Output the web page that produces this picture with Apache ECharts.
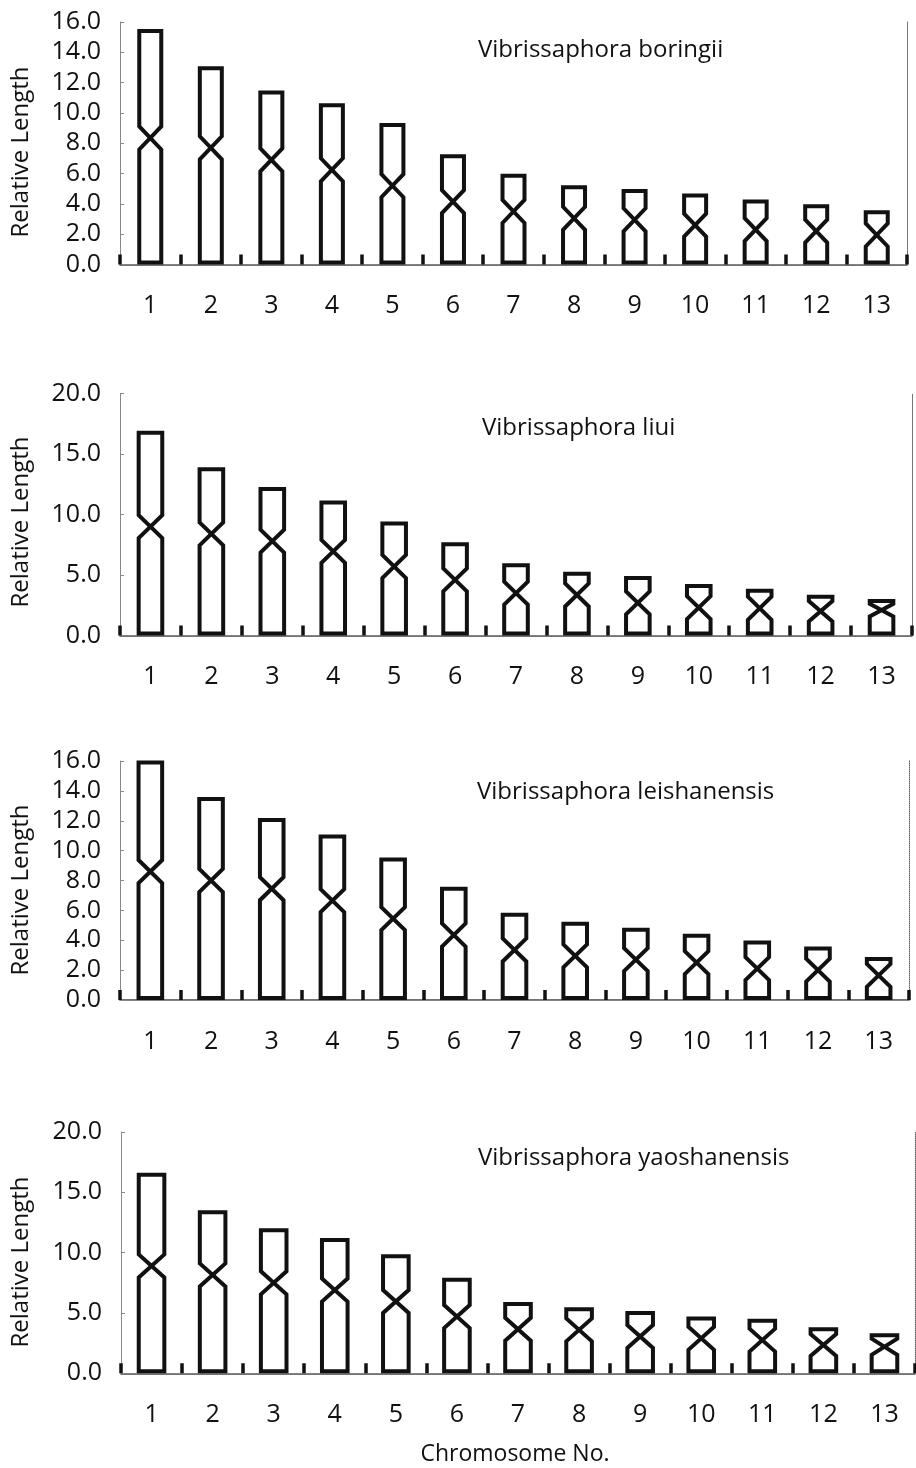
<!DOCTYPE html>
<html><head><meta charset="utf-8">
<script src="https://cdn.jsdelivr.net/npm/echarts@6/dist/echarts.min.js"></script>
<style>html,body{margin:0;padding:0;background:#fff}#c{width:916px;height:1468px}</style>
</head><body><div id="c"></div>
<script>
// ---- data ----
const chromosomes = ['1','2','3','4','5','6','7','8','9','10','11','12','13'];
const speciesNames = ['Vibrissaphora boringii','Vibrissaphora liui','Vibrissaphora leishanensis','Vibrissaphora yaoshanensis'];

const boringiiLength     = [15.4, 12.95, 11.35, 10.5, 9.2, 7.15, 5.85, 5.1, 4.85, 4.55, 4.15, 3.85, 3.45];
const boringiiCentromere = [8.35, 7.7, 6.9, 6.25, 5.2, 4.15, 3.5, 3.05, 2.95, 2.6, 2.3, 2.2, 1.95];

const liuiLength         = [16.75, 13.75, 12.1, 11.0, 9.25, 7.55, 5.8, 5.1, 4.75, 4.1, 3.7, 3.2, 2.85];
const liuiCentromere     = [9.0, 8.4, 7.8, 6.95, 5.7, 4.6, 3.5, 3.35, 2.7, 2.3, 2.25, 2.0, 2.1];

const leishanLength      = [15.9, 13.45, 12.05, 10.95, 9.4, 7.45, 5.7, 5.1, 4.7, 4.3, 3.85, 3.45, 2.75];
const leishanCentromere  = [8.6, 8.0, 7.45, 6.65, 5.45, 4.35, 3.35, 2.95, 2.7, 2.5, 2.1, 2.0, 1.65];

const yaoshanLength      = [16.45, 13.35, 11.85, 11.05, 9.7, 7.75, 5.75, 5.3, 5.0, 4.55, 4.35, 3.65, 3.15];
const yaoshanCentromere  = [8.9, 8.15, 7.5, 6.9, 5.95, 4.7, 3.65, 3.6, 3.05, 2.9, 2.75, 2.35, 2.2];

const yMax      = [16, 20, 16, 20];
const yInterval = [2, 5, 2, 5];
const yAxisTitle = 'Relative Length';
const xAxisTitle = 'Chromosome No.';

// ---- layout / style ----
const lengths = [boringiiLength, liuiLength, leishanLength, yaoshanLength];
const centromeres = [boringiiCentromere, liuiCentromere, leishanCentromere, yaoshanCentromere];
const layout = [
  {left:120, width:787, top:22,   height:242.5, hw:11,   titleX:478, titleY:50,   nameY:152},
  {left:120, width:792, top:393.5,height:242,   hw:11.8, titleX:482, titleY:428,  nameY:522},
  {left:120, width:789, top:761,  height:239,   hw:11.8, titleX:477, titleY:792,  nameY:890},
  {left:121, width:794, top:1132, height:241.3, hw:12.8, titleX:478, titleY:1158, nameY:1262}
];
const FONT = '"Open Sans", sans-serif';
const INK = '#111';

function makeRender(hw){
  return function(params, api){
    const i = api.value(0), top = api.value(1), cen = api.value(2);
    const pB = api.coord([i, 0]);
    const pT = api.coord([i, top]);
    const pC = api.coord([i, cen]);
    const xc = pB[0];
    const x0 = xc - hw, x1 = xc + hw;
    const yb = pB[1] - 2, yt = pT[1], yc = pC[1];
    const d = Math.min(11.5, 0.7*(yc - yt), 0.7*(yb - yc));
    const pts = [[x0,yb],[x0,yc+d],[x1,yc-d],[x1,yt],[x0,yt],[x0,yc-d],[x1,yc+d],[x1,yb]];
    return {
      type:'polygon',
      shape:{points:pts},
      style:{fill:'none', stroke:INK, lineWidth:4, lineJoin:'miter'}
    };
  };
}

const grids=[], xAxes=[], yAxes=[], series=[], graphics=[];
layout.forEach((L,k)=>{
  grids.push({left:L.left, width:L.width, top:L.top, height:L.height, containLabel:false});
  xAxes.push({
    type:'category', gridIndex:k, data:chromosomes, boundaryGap:true, position:'bottom',
    axisLine:{show:true, lineStyle:{color:'#444', width:1.5}},
    axisTick:{show:true, inside:true, length:10, lineStyle:{color:INK, width:3.5}},
    axisLabel:{margin:29, fontSize:25, fontFamily:FONT, color:INK},
    splitLine:{show:false}
  });
  xAxes.push({
    type:'category', gridIndex:k, data:chromosomes, position:'top',
    axisLine:{show:true, lineStyle:{color:'#888', width:1, type:'dotted'}},
    axisTick:{show:false}, axisLabel:{show:false}, splitLine:{show:false}
  });
  yAxes.push({
    type:'value', gridIndex:k, min:0, max:yMax[k], interval:yInterval[k], position:'left',
    axisLine:{show:true, lineStyle:{color:'#888', width:1}},
    axisTick:{show:true, inside:true, length:4, lineStyle:{color:'#888'}},
    axisLabel:{margin:19, fontSize:25, fontFamily:FONT, color:INK, formatter:v=>v.toFixed(1)},
    splitLine:{show:false}
  });
  yAxes.push({
    type:'value', gridIndex:k, min:0, max:yMax[k], interval:yInterval[k], position:'right',
    axisLine:{show:true, lineStyle:{color:'#666', width:1, type:'dotted'}},
    axisTick:{show:false}, axisLabel:{show:false}, splitLine:{show:false}
  });
  series.push({
    type:'custom', xAxisIndex:2*k, yAxisIndex:2*k, clip:false,
    renderItem: makeRender(L.hw),
    encode:{x:0, y:[1,2]},
    data: chromosomes.map((c,i)=>[i, lengths[k][i], centromeres[k][i]])
  });
  graphics.push({
    type:'text', x:L.titleX, y:L.titleY,
    style:{text:speciesNames[k], fill:INK, font:'24px ' + FONT, textAlign:'left', textVerticalAlign:'middle'}
  });
  graphics.push({
    type:'text', x:21, y:L.nameY, rotation:Math.PI/2,
    style:{text:yAxisTitle, fill:INK, font:'24px ' + FONT, textAlign:'center', textVerticalAlign:'middle'}
  });
});
graphics.push({
  type:'text', x:515, y:1454,
  style:{text:xAxisTitle, fill:INK, font:'23px ' + FONT, textAlign:'center', textVerticalAlign:'middle'}
});

const chart = echarts.init(document.getElementById('c'), null, {renderer:'canvas'});
chart.setOption({
  backgroundColor:'#fff',
  animation:false,
  grid:grids, xAxis:xAxes, yAxis:yAxes, series:series, graphic:graphics
});
</script>
</body></html>
